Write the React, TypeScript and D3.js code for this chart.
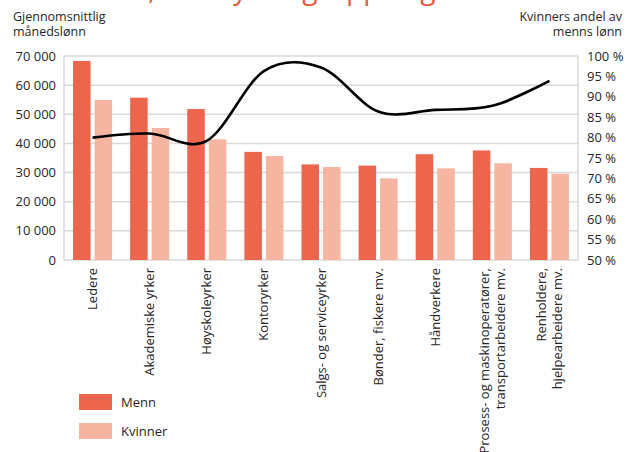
import React from "react";
import * as d3 from "d3";

const categories = [
  "Ledere",
  "Akademiske yrker",
  "Høyskoleyrker",
  "Kontoryrker",
  "Salgs- og serviceyrker",
  "Bønder, fiskere mv.",
  "Håndverkere",
  "Prosess- og maskinoperatører,\ntransportarbeidere mv.",
  "Renholdere,\nhjelpearbeidere mv.",
];
const menn = [68300, 55700, 51800, 37100, 32800, 32400, 36300, 37600, 31600];
const kvinner = [54900, 45300, 41400, 35700, 31900, 28000, 31450, 33200, 29600];
const andel = [80.0, 81.0, 79.2, 96.3, 97.2, 86.4, 86.8, 87.8, 93.9];
const series = ["Menn", "Kvinner"];
const leftTicks = [0, 10000, 20000, 30000, 40000, 50000, 60000, 70000];
const rightTicks = [50, 55, 60, 65, 70, 75, 80, 85, 90, 95, 100];

const W = 631;
const H = 452;
const plot = { left: 64, right: 578, top: 56, bottom: 260 };
const colors: Record<string, string> = { Menn: "#ec654d", Kvinner: "#f6b5a0" };
const font = "'Open Sans', sans-serif";
const textColor = "#262626";

const nb = d3.formatLocale({ decimal: ",", thousands: " ", grouping: [3], currency: ["", " kr"] });
const fmt = nb.format(",d");

export default function App() {
  const x = d3.scaleBand<string>().domain(categories).range([plot.left, plot.right]);
  const xs = d3
    .scaleBand<string>()
    .domain(series)
    .range([0, x.bandwidth()])
    .paddingInner(0.186)
    .paddingOuter(0.42);
  const y = d3.scaleLinear().domain([0, 70000]).range([plot.bottom, plot.top]);
  const y2 = d3.scaleLinear().domain([50, 100]).range([plot.bottom, plot.top]);

  const line = d3
    .line<number>()
    .x((_, i) => (x(categories[i]) as number) + x.bandwidth() / 2)
    .y((d) => y2(d))
    .curve(d3.curveCardinal.tension(0));

  return (
    <svg
      width={W}
      height={H}
      style={{ position: "absolute", left: 0, top: 0, background: "#fff" }}
      fontFamily={font}
    >
      {/* title, cut off at the top: only descenders show */}
      <text x={-14} y={-1.5} fontSize={28} fill="#e9573f">
        Månedslønn, etter yrkesgruppe og
      </text>

      {/* axis titles */}
      <text x={13} y={21} fontSize={12.5} fill={textColor}>
        <tspan x={13}>Gjennomsnittlig</tspan>
        <tspan x={13} dy={15}>månedslønn</tspan>
      </text>
      <text x={622} y={21} fontSize={12.5} fill={textColor} textAnchor="end">
        <tspan x={622}>Kvinners andel av</tspan>
        <tspan x={622} dy={15}>menns lønn</tspan>
      </text>

      {/* grid */}
      {leftTicks.map((t) => (
        <line
          key={t}
          x1={plot.left}
          x2={plot.right}
          y1={y(t)}
          y2={y(t)}
          stroke="#d9d9d9"
          strokeWidth={1.5}
        />
      ))}
      <line x1={plot.left} x2={plot.left} y1={plot.top} y2={plot.bottom} stroke="#d9d9d9" strokeWidth={1.5} />
      <line x1={plot.right} x2={plot.right} y1={plot.top} y2={plot.bottom} stroke="#d9d9d9" strokeWidth={1.5} />

      {/* left axis */}
      {leftTicks.map((t) => (
        <text key={t} x={56} y={y(t)} dy="0.35em" fontSize={13} textAnchor="end" fill={textColor}>
          {fmt(t)}
        </text>
      ))}
      {/* right axis */}
      {rightTicks.map((t) => (
        <text key={t} x={587} y={y2(t)} dy="0.35em" fontSize={13} fill={textColor}>
          {t} %
        </text>
      ))}

      {/* bars */}
      {categories.map((c, i) => (
        <g key={c} transform={`translate(${x(c)},0)`}>
          {[menn[i], kvinner[i]].map((v, j) => (
            <rect
              key={j}
              x={xs(series[j])}
              width={xs.bandwidth()}
              y={y(v)}
              height={y(0) - y(v)}
              fill={colors[series[j]]}
            />
          ))}
        </g>
      ))}

      {/* share line */}
      <path d={line(andel) || ""} fill="none" stroke="#000" strokeWidth={2.6} />

      {/* category labels */}
      {categories.map((c) => {
        const lines = c.split("\n");
        const cx = (x(c) as number) + x.bandwidth() / 2;
        return lines.map((l, k) => {
          const off = (k - (lines.length - 1) / 2) * 16;
          return (
            <text
              key={c + k}
              transform={`translate(${cx + off},268) rotate(-90)`}
              textAnchor="end"
              dy="0.35em"
              fontSize={13}
              fill={textColor}
            >
              {l}
            </text>
          );
        });
      })}

      {/* legend */}
      {series.map((s, i) => (
        <g key={s} transform={`translate(79,${394 + i * 29})`}>
          <rect width={33} height={16} fill={colors[s]} />
          <text x={42} y={8} dy="0.35em" fontSize={13} fill={textColor}>
            {s}
          </text>
        </g>
      ))}
    </svg>
  );
}
